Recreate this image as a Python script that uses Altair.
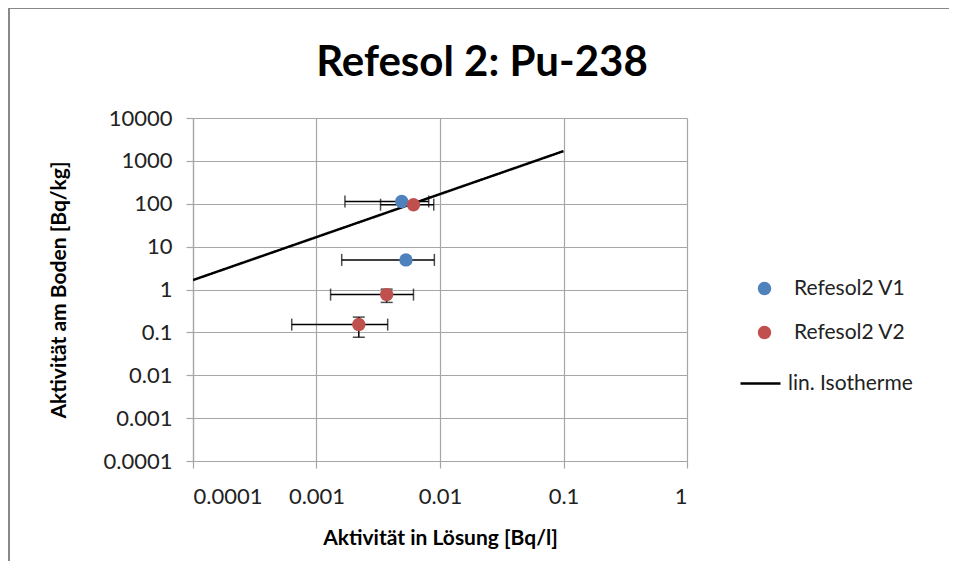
import altair as alt
import pandas as pd

# ---- data ----
v1_x = [0.0049, 0.0053]
v1_y = [113, 4.9]
v1_xerr = [0.0032, 0.0037]
v1_yerr = [0.0, 0.0]

v2_x = [0.0061, 0.0037, 0.0022]
v2_y = [95, 0.76, 0.152]
v2_xerr = [0.0028, 0.0024, 0.00157]
v2_yerr = [0.0, 0.26, 0.075]

iso_x = [0.0001, 0.1]
iso_y = [1.66, 1690]

x_ticks = [0.0001, 0.001, 0.01, 0.1, 1]
y_ticks = [0.0001, 0.001, 0.01, 0.1, 1, 10, 100, 1000, 10000]

series_names = ["Refesol2 V1", "Refesol2 V2"]
series_colors = ["#4F81BD", "#C0504D"]
line_name = "lin. Isotherme"

FONT = "Lato"
W, H = 494, 343

rows = []
for name, xs, ys, xe, ye in [
    (series_names[0], v1_x, v1_y, v1_xerr, v1_yerr),
    (series_names[1], v2_x, v2_y, v2_xerr, v2_yerr),
]:
    for x, y, ex, ey in zip(xs, ys, xe, ye):
        rows.append({"series": name, "x": x, "y": y,
                     "xlo": x - ex, "xhi": x + ex,
                     "ylo": y - ey if ey > 0 else None,
                     "yhi": y + ey if ey > 0 else None})
pts = pd.DataFrame(rows)
yerr_pts = pts.dropna(subset=["ylo"])
iso = pd.DataFrame({"x": iso_x, "y": iso_y, "series": [line_name] * len(iso_x)})

xscale = alt.Scale(type="log", domain=[0.0001, 1])
yscale = alt.Scale(type="log", domain=[0.0001, 10000])

xaxis = alt.Axis(values=x_ticks, format="~f", title="Aktivität in Lösung [Bq/l]",
                 grid=True, labelPadding=18, titlePadding=20)
yaxis = alt.Axis(values=y_ticks, format="~f", title="Aktivität am Boden [Bq/kg]",
                 grid=True, labelPadding=14, titlePadding=34)

line = alt.Chart(iso).mark_line(color="black", strokeWidth=2.5, clip=True).encode(
    x=alt.X("x:Q", scale=xscale, axis=xaxis),
    y=alt.Y("y:Q", scale=yscale, axis=yaxis),
    strokeDash=alt.StrokeDash("series:N",
                              scale=alt.Scale(domain=[line_name], range=[[1, 0]]),
                              legend=alt.Legend(title=None, orient="none", legendX=546, legendY=244,
                                                symbolType="stroke", symbolSize=1600,
                                                symbolStrokeColor="black", symbolStrokeWidth=2.5,
                                                labelOffset=6, padding=0)),
)

xbars = alt.Chart(pts).mark_rule(color="black", strokeWidth=1.5).encode(
    x="xlo:Q", x2="xhi:Q", y="y:Q")
xcap_lo = alt.Chart(pts).mark_tick(color="black", orient="vertical", size=12, thickness=1.5).encode(
    x="xlo:Q", y="y:Q")
xcap_hi = alt.Chart(pts).mark_tick(color="black", orient="vertical", size=12, thickness=1.5).encode(
    x="xhi:Q", y="y:Q")
ybars = alt.Chart(yerr_pts).mark_rule(color="black", strokeWidth=1.5).encode(
    x="x:Q", y="ylo:Q", y2="yhi:Q")
ycap_lo = alt.Chart(yerr_pts).mark_tick(color="black", orient="horizontal", size=12, thickness=1.5).encode(
    x="x:Q", y="ylo:Q")
ycap_hi = alt.Chart(yerr_pts).mark_tick(color="black", orient="horizontal", size=12, thickness=1.5).encode(
    x="x:Q", y="yhi:Q")

points = alt.Chart(pts).mark_circle(size=180, opacity=1).encode(
    x="x:Q", y="y:Q",
    color=alt.Color("series:N", scale=alt.Scale(domain=series_names, range=series_colors),
                    legend=alt.Legend(title=None, orient="none", legendX=561, legendY=160,
                                      symbolType="circle", symbolSize=180, symbolOpacity=1,
                                      labelOffset=19, rowPadding=22, padding=0)),
)

frame_top = alt.Chart(alt.Data(values=[{}])).mark_rule(color="#888888", strokeWidth=2).encode(
    x=alt.value(-184), x2=alt.value(820), y=alt.value(-110))
frame_left = alt.Chart(alt.Data(values=[{}])).mark_rule(color="#888888", strokeWidth=2).encode(
    x=alt.value(-184), y=alt.value(-111), y2=alt.value(480))

chart = alt.layer(
    line, xbars, xcap_lo, xcap_hi, ybars, ycap_lo, ycap_hi, points, frame_top, frame_left
).properties(
    width=W, height=H,
    title=alt.TitleParams("Refesol 2: Pu-238", anchor="middle", dx=42, offset=30, dy=109,
                          fontSize=42, font=FONT, fontWeight="bold", color="black"),
    autosize=alt.AutoSizeParams(type="none"),
    padding={"left": 185, "top": 110, "right": 262, "bottom": 100},
).resolve_legend(
    color="independent", strokeDash="independent"
).configure_axis(
    labelFont=FONT, labelFontSize=22, labelColor="#222222",
    titleFont=FONT, titleFontSize=21, titleFontWeight="bold", titleColor="black",
    gridColor="#a6a6a6", gridWidth=1.2, domainColor="#a6a6a6", domainWidth=1.2,
    tickColor="#a6a6a6", tickSize=7, tickWidth=1.2,
).configure_legend(
    labelFont=FONT, labelFontSize=21, labelColor="#222222",
).configure_view(stroke=None)

chart.save("out.html", embed_options={"renderer": "svg", "actions": False})
